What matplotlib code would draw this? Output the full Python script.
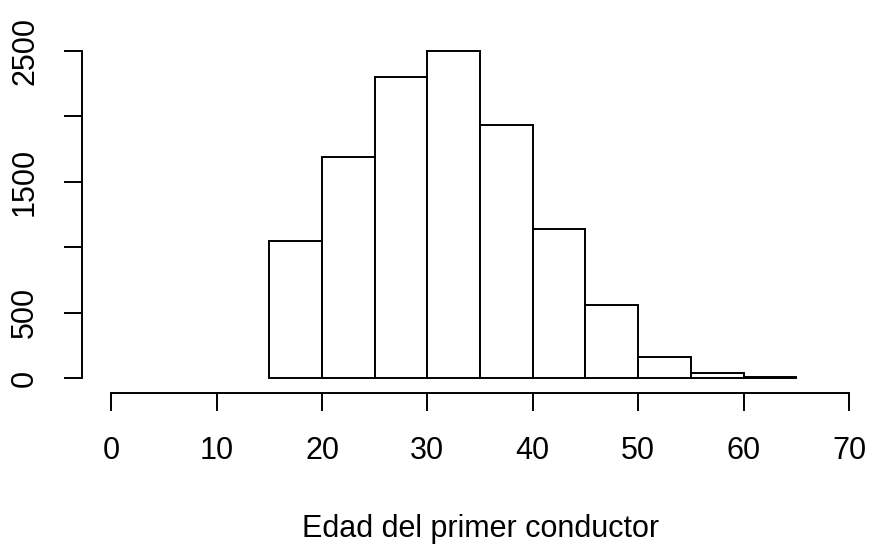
import numpy as np
import matplotlib
matplotlib.use('Agg')
import matplotlib.pyplot as plt

plt.rcParams['font.family'] = ['Liberation Sans', 'DejaVu Sans']

# histogram data
breaks = [15, 20, 25, 30, 35, 40, 45, 50, 55, 60, 65]
counts = [1050, 1692, 2303, 2497, 1934, 1140, 559, 164, 40, 10]
xticks = [0, 10, 20, 30, 40, 50, 60, 70]
yticks = [0, 500, 1000, 1500, 2000, 2500]
ytick_labels = ['0', '500', '', '1500', '', '2500']
xlabel = 'Edad del primer conductor'

W, H = 871, 545
fig = plt.figure(figsize=(W / 100, H / 100), dpi=100)
# plot region in pixels (R style, 4% extension on both axes)
left, right, top, bottom = 81.7, 878.5, 37.6, 391.5
ax = fig.add_axes([left / W, 1 - bottom / H, (right - left) / W, (bottom - top) / H])

lw = 1.4
widths = np.diff(breaks)
ax.bar(breaks[:-1], counts, width=widths, align='edge',
       facecolor='white', edgecolor='black', linewidth=lw)

ax.set_xlim(-2.8, 72.8)
ax.set_ylim(-100, 2600)

for s in ['top', 'right']:
    ax.spines[s].set_visible(False)
ax.spines['left'].set_bounds(0, 2500)
ax.spines['bottom'].set_bounds(0, 70)
ax.spines['left'].set_linewidth(lw)
ax.spines['bottom'].set_linewidth(lw)
ax.spines['bottom'].set_position(('outward', 1.2))

ax.set_xticks(xticks)
ax.set_xticklabels([str(v) for v in xticks])
ax.set_yticks(yticks)
ax.set_yticklabels(ytick_labels, rotation=90, va='center')
ax.tick_params(axis='both', direction='out', length=13, width=lw,
               labelsize=22, colors='black')
ax.tick_params(axis='x', pad=18)
ax.tick_params(axis='y', pad=17)

fig.text((left + right) / 2 / W, 1 - 537 / H, xlabel, ha='center',
         va='baseline', fontsize=22)

fig.savefig('out.png', dpi=100)
